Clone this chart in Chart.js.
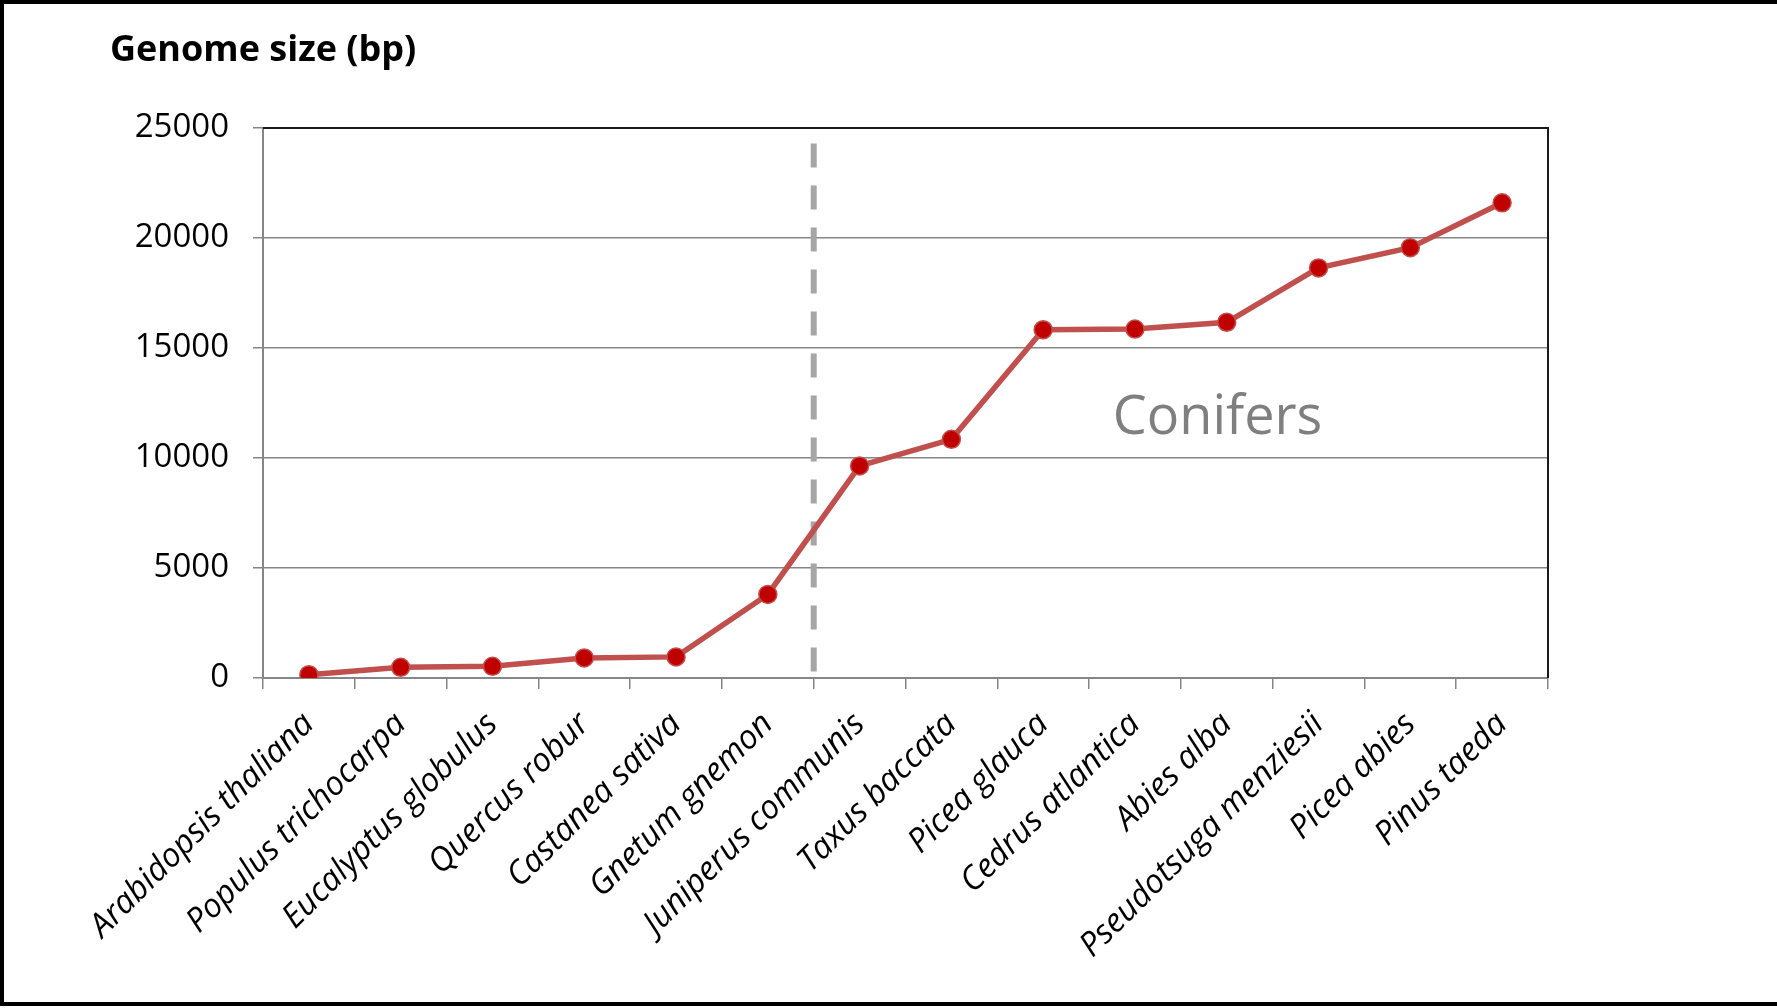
<!DOCTYPE html>
<html>
<head>
<meta charset="utf-8">
<script src="https://cdn.jsdelivr.net/npm/chart.js@4.4.1/dist/chart.umd.min.js"></script>
<style>
  html, body { margin: 0; padding: 0; background: #fff; }
  #wrap { width: 1777px; height: 1008px; }
</style>
</head>
<body>
<div id="wrap"><canvas id="genomeChart" width="1777" height="1008"></canvas></div>
<script>
    // Species on the x axis, smallest genome first
    const species = [
      'Arabidopsis thaliana', 'Populus trichocarpa', 'Eucalyptus globulus', 'Quercus robur',
      'Castanea sativa', 'Gnetum gnemon', 'Juniperus communis', 'Taxus baccata',
      'Picea glauca', 'Cedrus atlantica', 'Abies alba', 'Pseudotsuga menziesii',
      'Picea abies', 'Pinus taeda'
    ];

    // Genome size
    const genomeSize = [150, 485, 530, 910, 960, 3800, 9640, 10850, 15830, 15860, 16170, 18640, 19560, 21600];

    // Y axis range and tick spacing
    const yMin = 0;
    const yMax = 25000;
    const yStep = 5000;

    // Group divider and its label
    const dividerAfter = 'Gnetum gnemon';
    const dividerTop = 24300;
    const groupLabel = 'Conifers';
    const groupLabelAt = { x: 9.9, y: 11800 };

    const titleText = 'Genome size (bp)';
    const FONT = '"Open Sans", "DejaVu Sans", sans-serif';

    // Extra drawing: white background, divider, group label, frame, title
    const extras = {
      id: 'extras',
      beforeDraw(chart) {
        const ctx = chart.ctx;
        ctx.save();
        ctx.fillStyle = '#ffffff';
        ctx.fillRect(0, 0, chart.width, chart.height);
        ctx.restore();
      },
      beforeDatasetsDraw(chart) {
        const { ctx, scales: { x, y } } = chart;
        const i = species.indexOf(dividerAfter);
        const xPos = (x.getPixelForValue(i) + x.getPixelForValue(i + 1)) / 2;

        ctx.save();
        ctx.strokeStyle = '#a6a6a6';
        ctx.lineWidth = 6;
        ctx.setLineDash([24, 18]);
        ctx.beginPath();
        ctx.moveTo(xPos, y.getPixelForValue(dividerTop));
        ctx.lineTo(xPos, y.getPixelForValue(yMin) - 4);
        ctx.stroke();
        ctx.setLineDash([]);

        ctx.font = '54px ' + FONT;
        ctx.fillStyle = '#7f7f7f';
        ctx.textAlign = 'center';
        ctx.textBaseline = 'middle';
        ctx.fillText(groupLabel, x.getPixelForValue(groupLabelAt.x), y.getPixelForValue(groupLabelAt.y));
        ctx.restore();
      },
      afterDraw(chart) {
        const { ctx, chartArea } = chart;
        ctx.save();

        // top and right edge of the plot box
        ctx.strokeStyle = '#1a1a1a';
        ctx.lineWidth = 2;
        ctx.beginPath();
        ctx.moveTo(chartArea.left, chartArea.top);
        ctx.lineTo(chartArea.right, chartArea.top);
        ctx.lineTo(chartArea.right, chartArea.bottom);
        ctx.stroke();

        // title
        ctx.font = 'bold 36px ' + FONT;
        ctx.fillStyle = '#000000';
        ctx.textAlign = 'left';
        ctx.textBaseline = 'middle';
        ctx.fillText(titleText, 110, 51);

        // outer frame (left, top, bottom)
        ctx.strokeStyle = '#000000';
        ctx.lineWidth = 4;
        ctx.beginPath();
        ctx.moveTo(chart.width + 10, 2);
        ctx.lineTo(2, 2);
        ctx.lineTo(2, chart.height - 4);
        ctx.lineTo(chart.width + 10, chart.height - 4);
        ctx.stroke();
        ctx.restore();
      }
    };

    const ctx = document.getElementById('genomeChart').getContext('2d');
    new Chart(ctx, {
      type: 'line',
      data: {
        labels: species,
        datasets: [{
          label: 'Genome size',
          data: genomeSize,
          borderColor: '#c0504d',
          borderWidth: 5.5,
          pointRadius: 9,
          pointBackgroundColor: '#c00000',
          pointBorderColor: '#c0504d',
          pointBorderWidth: 1.5,
          tension: 0
        }]
      },
      options: {
        responsive: false,
        devicePixelRatio: 1,
        animation: false,
        layout: { padding: { top: 128, right: 229, left: 0, bottom: 0 } },
        plugins: {
          legend: { display: false },
          tooltip: { enabled: false }
        },
        scales: {
          x: {
            offset: true,
            afterFit: function(scale) { scale.height = 330; },
            grid: {
              offset: true,
              drawOnChartArea: false,
              tickLength: 11,
              color: '#868686',
              lineWidth: 1.5
            },
            border: { color: '#868686', width: 2 },
            ticks: {
              autoSkip: false,
              minRotation: 45,
              maxRotation: 45,
              padding: 16,
              color: '#000000',
              font: { family: FONT, size: 33, style: 'italic' }
            }
          },
          y: {
            min: yMin,
            max: yMax,
            afterFit: function(scale) { scale.width = 263; },
            grid: {
              tickLength: 10,
              color: '#868686',
              lineWidth: 1.5
            },
            border: { color: '#868686', width: 2 },
            ticks: {
              stepSize: yStep,
              padding: 24,
              color: '#000000',
              font: { family: FONT, size: 33 },
              callback: function(value) { return String(value); }
            }
          }
        }
      },
      plugins: [extras]
    });
</script>
</body>
</html>
